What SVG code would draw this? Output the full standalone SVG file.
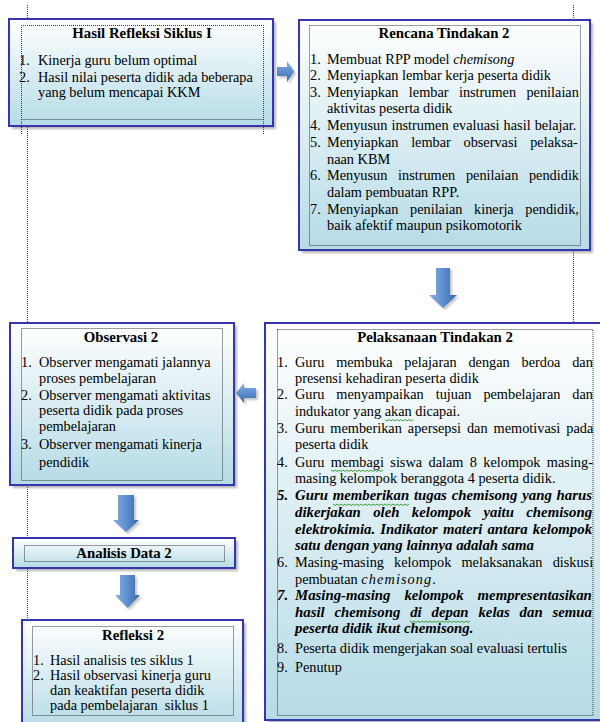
<svg xmlns="http://www.w3.org/2000/svg" width="600" height="722" viewBox="0 0 600 722">
<defs>
<linearGradient id="bg" x1="0" y1="0" x2="0" y2="1"><stop offset="0" stop-color="#ffffff"/><stop offset="1" stop-color="#b5dbe6"/></linearGradient>
<linearGradient id="ad" x1="0" y1="0" x2="1" y2="0"><stop offset="0" stop-color="#86afe0"/><stop offset="0.5" stop-color="#5d8fd0"/><stop offset="1" stop-color="#3c68a6"/></linearGradient>
<linearGradient id="ah" x1="0" y1="0" x2="0" y2="1"><stop offset="0" stop-color="#86afe0"/><stop offset="0.5" stop-color="#5d8fd0"/><stop offset="1" stop-color="#3c68a6"/></linearGradient>
<filter id="blur" x="-10%" y="-10%" width="120%" height="120%"><feGaussianBlur stdDeviation="1.2"/></filter>
<style>
text{font-family:"Liberation Serif","Times New Roman",serif;font-size:14.3px;fill:#000}
.h{font-weight:bold;font-size:14.8px;text-anchor:middle}
.bi{font-weight:bold;font-style:italic;font-size:14.8px}
.it{font-style:italic}
.box{fill:url(#bg);stroke:#3535ae;stroke-width:2}
.sh{fill:#7a7a7a;opacity:.55;filter:url(#blur)}
.frame{fill:none;stroke:#3a3a3a;stroke-width:1;stroke-dasharray:1 1}
.dot{fill:none;stroke:#3a3a3a;stroke-width:1;stroke-dasharray:1 1}
.ad{fill:url(#ad)}
.ah{fill:url(#ah)}
.ash{fill:#8a8a8a;opacity:.5;filter:url(#blur)}
.sq{fill:none;stroke:#3f9f3f;stroke-width:1}
</style>
</defs>
<rect width="600" height="722" fill="#ffffff"/>

<g id="connectors">
<line class="dot" x1="27.5" y1="5" x2="27.5" y2="620"/>
<line class="dot" x1="573.5" y1="5" x2="573.5" y2="323"/>
<path class="ash" d="M279,69 H289 V63 L296,73.5 L289,84 V78 H279 Z"/>
<path class="ah" d="M277,67 H287 V61 L294,71.5 L287,82 V76 H277 Z"/>
<path class="ash" d="M438,270 H452 V297 H459 L445,310 L431,297 H438 Z"/>
<path class="ad" d="M436,268 H450 V295 H457 L443,308 L429,295 H436 Z"/>
<path class="ash" d="M258,390 V400 H246 V405 L238,395 L246,385 V390 Z"/>
<path class="ah" d="M256,388 V398 H244 V403 L236,393 L244,383 V388 Z"/>
<path class="ash" d="M120,497 H136 V522 H141 L128,534 L115,522 H120 Z"/>
<path class="ad" d="M118,495 H134 V520 H139 L126,532 L113,520 H118 Z"/>
<path class="ash" d="M122,577 H137 V597 H142 L129.5,610 L117,597 H122 Z"/>
<path class="ad" d="M120,575 H135 V595 H140 L127.5,608 L115,595 H120 Z"/>
</g>

<g id="hasil-refleksi-siklus-1">
<rect class="sh" x="12" y="22" width="264" height="107"/>
<rect class="box" x="9" y="19" width="264" height="107"/>
<path class="frame" d="M21.5,134 V25.5 H263.5 V134"/>
<line class="frame" x1="21.5" y1="119.5" x2="263.5" y2="119.5" stroke-width="2"/>
<text class="h" x="142" y="38">Hasil Refleksi Siklus I</text>
<text x="19" y="65">1.</text><text x="38" y="65">Kinerja guru belum optimal</text>
<text x="19" y="82">2.</text><text x="38" y="82">Hasil nilai peserta didik ada beberapa</text>
<text x="38" y="97">yang belum mencapai KKM</text>
</g>

<g id="rencana-tindakan-2">
<rect class="sh" x="302" y="23" width="291" height="230"/>
<rect class="box" x="299" y="20" width="291" height="230"/>
<rect class="frame" x="309.5" y="25.5" width="271" height="220"/>
<text class="h" x="444" y="38">Rencana Tindakan 2</text>
<text x="310" y="64">1.</text><text x="327" y="64">Membuat RPP model <tspan class="it">chemisong</tspan></text>
<text x="310" y="80">2.</text><text x="327" y="80">Menyiapkan lembar kerja peserta didik</text>
<text x="310" y="96.5">3.</text><text x="327" y="96.5" word-spacing="6.8">Menyiapkan lembar instrumen penilaian</text>
<text x="327" y="113">aktivitas peserta didik</text>
<text x="310" y="130">4.</text><text x="327" y="130" word-spacing="0.5">Menyusun instrumen evaluasi hasil belajar.</text>
<text x="310" y="147">5.</text><text x="327" y="147" word-spacing="9.1">Menyiapkan lembar observasi pelaksa-</text>
<text x="327" y="163.5">naan KBM</text>
<text x="310" y="180">6.</text><text x="327" y="180" word-spacing="7.1">Menyusun instrumen penilaian pendidik</text>
<text x="327" y="197">dalam pembuatan RPP.</text>
<text x="310" y="213.5">7.</text><text x="327" y="213.5" word-spacing="8">Menyiapkan penilaian kinerja pendidik,</text>
<text x="327" y="230">baik afektif maupun psikomotorik</text>
</g>

<g id="observasi-2">
<rect class="sh" x="13" y="326" width="224" height="162"/>
<rect class="box" x="10" y="323" width="224" height="162"/>
<rect class="frame" x="21.5" y="328.5" width="201" height="152"/>
<text class="h" x="121" y="342">Observasi 2</text>
<text x="21" y="367">1.</text><text x="39" y="367">Observer mengamati jalannya</text>
<text x="39" y="383">proses pembelajaran</text>
<text x="21" y="400">2.</text><text x="39" y="400">Observer mengamati aktivitas</text>
<text x="39" y="415">peserta didik pada proses</text>
<text x="39" y="431">pembelajaran</text>
<text x="21" y="449">3.</text><text x="39" y="449">Observer mengamati kinerja</text>
<text x="39" y="467">pendidik</text>
</g>

<g id="pelaksanaan-tindakan-2">
<rect class="sh" x="268" y="326" width="340" height="397"/>
<rect class="box" x="265" y="323" width="340" height="397"/>
<rect class="frame" x="277.5" y="329.5" width="315.5" height="386"/>
<text class="h" x="435" y="342">Pelaksanaan Tindakan 2</text>
<text x="277" y="367">1.</text><text x="295" y="367" word-spacing="8.2">Guru membuka pelajaran dengan berdoa dan</text>
<text x="295" y="383">presensi kehadiran peserta didik</text>
<text x="277" y="399">2.</text><text x="295" y="399" word-spacing="8.4">Guru menyampaikan tujuan pembelajaran dan</text>
<text x="295" y="416">indukator yang akan dicapai.</text>
<text x="277" y="433">3.</text><text x="295" y="433" word-spacing="2.4">Guru memberikan apersepsi dan memotivasi pada</text>
<text x="295" y="449">peserta didik</text>
<text x="277" y="467">4.</text><text x="295" y="467" word-spacing="2.8">Guru membagi siswa dalam 8 kelompok masing-</text>
<text x="295" y="483">masing kelompok beranggota 4 peserta didik.</text>
<text class="bi" x="277" y="500">5.</text><text class="bi" x="295" y="500" word-spacing="1.1">Guru memberikan tugas chemisong yang harus</text>
<text class="bi" x="295" y="517" word-spacing="8.7">dikerjakan oleh kelompok yaitu chemisong</text>
<text class="bi" x="295" y="534" word-spacing="1.4">elektrokimia. Indikator materi antara kelompok</text>
<text class="bi" x="295" y="550">satu dengan yang lainnya adalah sama</text>
<text x="277" y="567">6.</text><text x="295" y="567" word-spacing="6.6">Masing-masing kelompok melaksanakan diskusi</text>
<text x="295" y="584">pembuatan <tspan class="it" letter-spacing="1.1">chemisong</tspan>.</text>
<text class="bi" x="277" y="600">7.</text><text class="bi" x="295" y="600" word-spacing="10.3">Masing-masing kelompok mempresentasikan</text>
<text class="bi" x="295" y="617" word-spacing="6.2">hasil chemisong di depan kelas dan semua</text>
<text class="bi" x="295" y="633">peserta didik ikut chemisong.</text>
<text x="277" y="653">8.</text><text x="295" y="653">Peserta didik mengerjakan soal evaluasi tertulis</text>
<text x="277" y="672">9.</text><text x="295" y="672">Penutup</text>
<path class="sq" d="M385,419.5 l2,1.5 l2,-1.5 l2,1.5 l2,-1.5 l2,1.5 l2,-1.5 l2,1.5 l2,-1.5 l2,1.5 l2,-1.5 l2,1.5 l2,-1.5 l2,1.5 l2,-1.5"/>
<path class="sq" d="M331,470 l2,1.5 l2,-1.5 l2,1.5 l2,-1.5 l2,1.5 l2,-1.5 l2,1.5 l2,-1.5 l2,1.5 l2,-1.5 l2,1.5 l2,-1.5 l2,1.5 l2,-1.5 l2,1.5 l2,-1.5 l2,1.5 l2,-1.5 l2,1.5 l2,-1.5 l2,1.5 l2,-1.5 l2,1.5 l2,-1.5 l2,1.5 l2,-1.5"/>
<path class="sq" d="M333,504 l2,1.5 l2,-1.5 l2,1.5 l2,-1.5 l2,1.5 l2,-1.5 l2,1.5 l2,-1.5 l2,1.5 l2,-1.5 l2,1.5 l2,-1.5 l2,1.5 l2,-1.5 l2,1.5 l2,-1.5 l2,1.5 l2,-1.5 l2,1.5 l2,-1.5 l2,1.5 l2,-1.5 l2,1.5 l2,-1.5 l2,1.5 l2,-1.5 l2,1.5 l2,-1.5 l2,1.5 l2,-1.5 l2,1.5 l2,-1.5 l2,1.5 l2,-1.5 l2,1.5 l2,-1.5 l2,1.5 l2,-1.5"/>
<path class="sq" d="M410,621 l2,1.5 l2,-1.5 l2,1.5 l2,-1.5 l2,1.5 l2,-1.5 l2,1.5 l2,-1.5 l2,1.5 l2,-1.5 l2,1.5 l2,-1.5 l2,1.5 l2,-1.5 l2,1.5 l2,-1.5 l2,1.5 l2,-1.5 l2,1.5 l2,-1.5 l2,1.5 l2,-1.5 l2,1.5 l2,-1.5 l2,1.5 l2,-1.5 l2,1.5 l2,-1.5 l2,1.5 l2,-1.5"/>
</g>

<g id="analisis-data-2">
<rect class="sh" x="16" y="541" width="222" height="30"/>
<rect class="box" x="13" y="538" width="222" height="30"/>
<rect class="frame" x="24.5" y="545.5" width="200" height="16"/>
<text class="h" x="124" y="558">Analisis Data 2</text>
</g>

<g id="refleksi-2">
<rect class="sh" x="25" y="623" width="221" height="110"/>
<rect class="box" x="22" y="620" width="221" height="110"/>
<rect class="frame" x="32.5" y="626.5" width="201" height="89"/>
<text class="h" x="133" y="640">Refleksi 2</text>
<text x="33" y="665">1.</text><text x="50" y="665">Hasil analisis tes siklus 1</text>
<text x="33" y="680">2.</text><text x="50" y="680">Hasil observasi kinerja guru</text>
<text x="50" y="695">dan keaktifan peserta didik</text>
<text x="50" y="710" xml:space="preserve">pada pembelajaran  siklus 1</text>
</g>
</svg>
